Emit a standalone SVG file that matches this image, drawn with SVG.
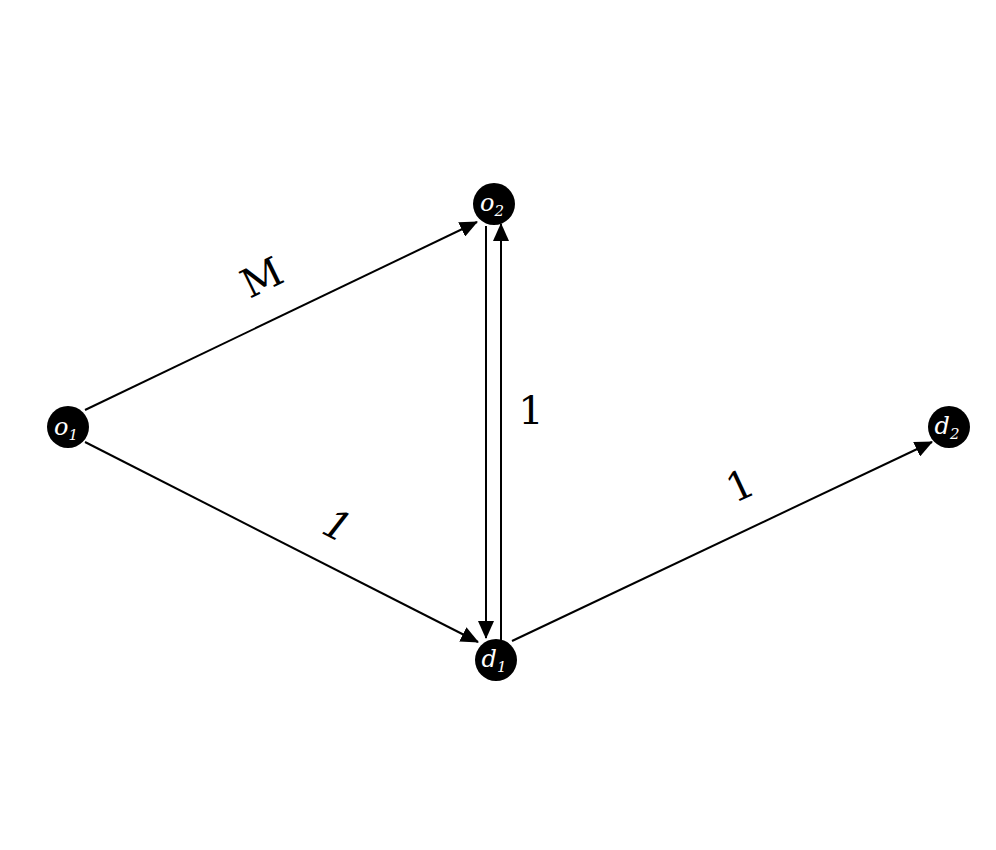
<svg xmlns="http://www.w3.org/2000/svg" width="996" height="850" viewBox="0 0 996 850">
<style>
.e{stroke:#000;stroke-width:2;fill:none;marker-end:url(#a)}
.n{fill:#000}
.t{fill:#fff;font-family:"DejaVu Serif",serif;font-style:italic;font-size:24px;text-anchor:middle}
.s{font-size:15px}
.l{font-family:"DejaVu Serif",serif;font-size:40px;text-anchor:middle;fill:#000}
</style>
<defs><marker id="a" markerWidth="10" markerHeight="8" refX="10" refY="4" orient="auto" markerUnits="userSpaceOnUse" viewBox="0 0 10 8"><path d="M0,0L10,4L0,8z" transform="scale(1)"/></marker>
<marker id="b" markerWidth="18" markerHeight="16" refX="17" refY="8" orient="auto" markerUnits="userSpaceOnUse"><path d="M0,0L18,8L0,16z"/></marker></defs>
<rect width="996" height="850" fill="#fff"/>
<g id="edges">
<line x1="85" y1="410" x2="477" y2="222" stroke="#000" stroke-width="2" marker-end="url(#b)"/>
<line x1="85" y1="442" x2="478" y2="642" stroke="#000" stroke-width="2" marker-end="url(#b)"/>
<line x1="486" y1="226" x2="486" y2="638" stroke="#000" stroke-width="2" marker-end="url(#b)"/>
<line x1="501" y1="640" x2="501" y2="224" stroke="#000" stroke-width="2" marker-end="url(#b)"/>
<line x1="512" y1="641" x2="932" y2="442" stroke="#000" stroke-width="2" marker-end="url(#b)"/>
<text class="l" transform="translate(268,290) rotate(-26)">M</text>
<text class="l" font-style="italic" transform="translate(331,538) rotate(27)">1</text>
<text class="l" x="531" y="424">1</text>
<text class="l" transform="translate(746,498) rotate(-25)">1</text>
</g>
<g id="o1"><circle class="n" cx="68" cy="427" r="21"/><text class="t" x="66" y="435">o<tspan class="s" dy="5">1</tspan></text></g>
<g id="o2"><circle class="n" cx="494" cy="204" r="21"/><text class="t" x="492" y="211">o<tspan class="s" dy="5">2</tspan></text></g>
<g id="d1"><circle class="n" cx="496" cy="660" r="21"/><text class="t" x="494" y="667">d<tspan class="s" dy="5">1</tspan></text></g>
<g id="d2"><circle class="n" cx="949" cy="427" r="21"/><text class="t" x="947" y="434">d<tspan class="s" dy="5">2</tspan></text></g>
</svg>
